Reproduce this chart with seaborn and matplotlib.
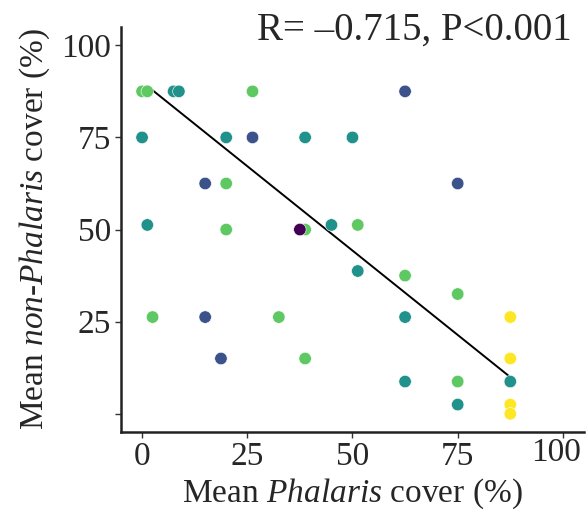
"""
Phalaris cover vs non-Phalaris cover
"""

import numpy as np
import pandas as pd
import matplotlib
matplotlib.use('Agg')
import matplotlib.pyplot as plt
import matplotlib.transforms as mtransforms
import seaborn as sns

# Dados
phalaris = [0, 1.25, 7.5, 8.75, 26.25, 62.5,
            0, 20, 26.25, 38.75, 50,
            15, 20, 75,
            1.25, 20, 38.75, 37.5, 45, 51.25,
            51.25, 62.5, 75,
            2.5, 15, 32.5, 62.5, 87.5,
            18.75, 38.75, 87.5,
            62.5, 75, 87.5,
            75, 87.5, 87.5]
non_phalaris = [87.5, 87.5, 87.5, 87.5, 87.5, 87.5,
                75, 75, 75, 75, 75,
                62.5, 62.5, 62.5,
                51.25, 50, 50, 50, 51.25, 51.25,
                38.75, 37.5, 32.5,
                26.25, 26.25, 26.25, 26.25, 26.25,
                15, 15, 15,
                8.75, 8.75, 8.75,
                2.5, 2.5, 0]
grupo = [4, 4, 3, 3, 4, 2,
         3, 3, 2, 3, 3,
         2, 4, 2,
         3, 4, 4, 1, 3, 4,
         3, 4, 4,
         4, 2, 4, 3, 5,
         2, 4, 5,
         3, 4, 3,
         3, 5, 5]
# reta ajustada
fit_x = [1.25, 87.5]
fit_slope = -0.916
fit_intercept = 90.1

x_ticks = [0, 25, 50, 75, 100]
y_ticks = [0, 25, 50, 75, 100]
y_tick_labels = ['', '25', '50', '75', '100']

df = pd.DataFrame({'phalaris': phalaris, 'non_phalaris': non_phalaris, 'grupo': grupo})
df_fit = pd.DataFrame({'x': fit_x})
df_fit['y'] = fit_intercept + fit_slope * df_fit['x']

sns.set_style('white')
plt.rcParams['font.family'] = ['Liberation Serif', 'DejaVu Serif']
plt.rcParams['mathtext.fontset'] = 'custom'
plt.rcParams['mathtext.rm'] = 'Liberation Serif'
plt.rcParams['mathtext.it'] = 'Liberation Serif:italic'

fig = plt.figure(figsize=(5.86, 5.17), dpi=100)
ax = fig.add_axes([0.2065, 0.164, 0.79, 0.784])

cores = [tuple(c) for c in plt.cm.viridis(np.linspace(0, 1, 5))]
sns.lineplot(data=df_fit, x='x', y='y', color='black', linewidth=1.4, ax=ax, zorder=1)
sns.scatterplot(data=df, x='phalaris', y='non_phalaris', hue='grupo',
                palette=cores, s=80, edgecolor='white', linewidth=0.4,
                legend=False, ax=ax, zorder=2)

ax.set_xlim(-5, 105)
ax.set_ylim(-5, 105)
ax.set_xticks(x_ticks)
ax.set_yticks(y_ticks)
ax.set_yticklabels(y_tick_labels)
ax.tick_params(labelsize=24, length=4, width=1, color='#333333', pad=3,
               direction='out', bottom=True, left=True)
sns.despine(ax=ax)
for s in ['left', 'bottom']:
    ax.spines[s].set_linewidth(1.8)
    ax.spines[s].set_color('#222222')

# o "100" do eixo x fica um pouco à esquerda e acima, como no original
ultimo = ax.get_xticklabels()[-1]
ultimo.set_transform(ultimo.get_transform() +
                     mtransforms.ScaledTranslation(-7 / 100, 4 / 100, fig.dpi_scale_trans))

ax.set_xlabel(r'Mean $\mathit{Phalaris}$ cover (%)', fontsize=24, labelpad=3)
ax.set_ylabel(r'Mean $\mathit{non}$-$\mathit{Phalaris}$ cover (%)', fontsize=24, labelpad=7)

fig.text(0.975, 0.942, 'R= \u20130.715, P<0.001', fontsize=28, ha='right', va='center')

fig.savefig('out.png', dpi=100)
